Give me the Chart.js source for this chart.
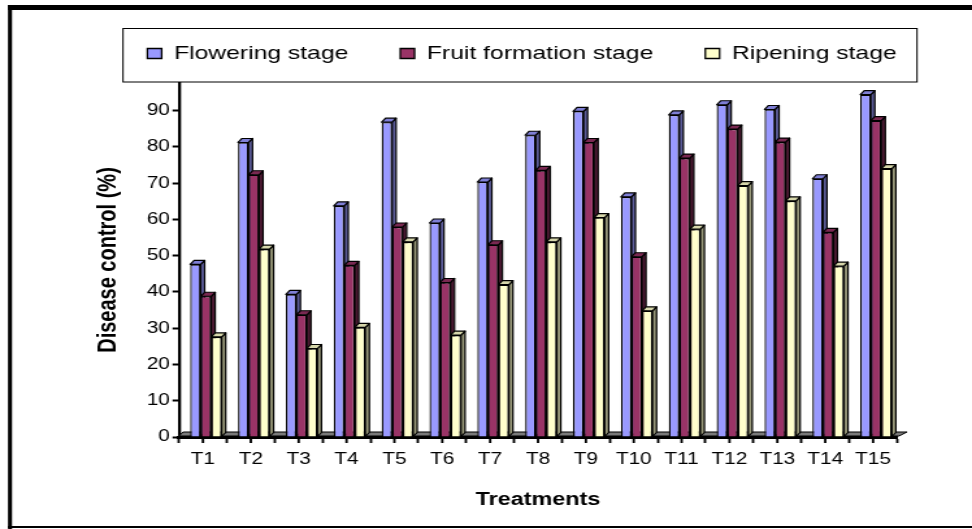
<!DOCTYPE html>
<html>
<head>
<meta charset="utf-8">
<script src="https://cdn.jsdelivr.net/npm/chart.js@4.4.1/dist/chart.umd.min.js"></script>
<style>
html,body{margin:0;padding:0;background:#fff;overflow:hidden;}
#wrap{width:748px;height:529px;transform:scaleX(1.2994652);transform-origin:0 0;}
</style>
</head>
<body>
<div id="wrap"><canvas id="c" width="748" height="529" style="width:748px;height:529px;display:block"></canvas></div>
<script>
// ---- data ----
const categories = ['T1','T2','T3','T4','T5','T6','T7','T8','T9','T10','T11','T12','T13','T14','T15'];
const seriesNames = ['Flowering stage','Fruit formation stage','Ripening stage'];
const flowering      = [47.6, 81.2, 39.3, 63.7, 86.8, 59.0, 70.3, 83.2, 89.8, 66.2, 88.8, 91.6, 90.3, 71.2, 94.4];
const fruitFormation = [38.8, 72.3, 33.7, 47.3, 57.9, 42.6, 53.0, 73.5, 81.2, 49.7, 76.9, 84.9, 81.3, 56.4, 87.2];
const ripening       = [27.6, 51.8, 24.4, 30.2, 53.8, 28.1, 42.0, 53.8, 60.5, 34.8, 57.3, 69.3, 65.1, 47.1, 74.0];
const yTickStep = 10;
const yAxisTitle = 'Disease control (%)';
const xAxisTitle = 'Treatments';

// ---- styling ----
const SX = 972 / 748;               // the reference picture is stretched horizontally
const FONT = "'Liberation Sans', Arial, Helvetica, sans-serif";
const frontColors = ['#9999FF', '#993366', '#FFFFCC'];
const sideColors  = ['#5c5c99', '#4d1a33', '#99997a'];
const topColors   = ['#7f7fd6', '#7a2952', '#d6d6aa'];
const DX = 4 / SX, DY = 4, SHIFT = 3 / SX;

const threeD = {
  id: 'threeD',
  beforeDraw(chart) {
    const {ctx, width, height} = chart;
    ctx.save();
    ctx.fillStyle = '#fff';
    ctx.fillRect(0, 0, width, height);
    ctx.fillStyle = '#000';
    ctx.fillRect(8 / SX, 5, width, 5);
    ctx.fillRect(8 / SX, 5, 4 / SX, height);
    ctx.fillRect(8 / SX, 526, width, 2);
    ctx.strokeStyle = '#000';
    ctx.lineWidth = 1;
    ctx.strokeRect(123 / SX, 28.5, (917 - 123) / SX, 53.5);
    ctx.restore();
  },
  afterLayout(chart) {
    const lg = chart.legend;
    if (!lg) return;
    const dx = 522 / SX - (lg.left + lg.right) / 2;
    lg.left += dx; lg.right += dx;
  },
  beforeDatasetsDraw(chart) {
    const {ctx} = chart;
    const xs = chart.scales.x, ys = chart.scales.y;
    const y0 = ys.getPixelForValue(0);
    ctx.save();
    // floor
    ctx.fillStyle = '#7a7a7a';
    ctx.strokeStyle = '#000';
    ctx.lineWidth = 1;
    ctx.beginPath();
    ctx.moveTo(xs.left, y0 - 1);
    ctx.lineTo(xs.right + 2 / SX, y0 - 1);
    ctx.lineTo(xs.right + 10 / SX, y0 - 1 - DY);
    ctx.lineTo(xs.left + DX, y0 - 1 - DY);
    ctx.closePath();
    ctx.fill();
    ctx.stroke();
    ctx.translate(SHIFT, 0);
    ctx.lineWidth = 1.2;
    ctx.lineJoin = 'round';
    const n = chart.data.labels.length;
    for (let i = 0; i < n; i++) {
      chart.data.datasets.forEach((ds, d) => {
        const el = chart.getDatasetMeta(d).data[i];
        const p = el.getProps(['x', 'y', 'base', 'width'], true);
        const l = p.x - p.width / 2, r = p.x + p.width / 2;
        ctx.fillStyle = sideColors[d];
        ctx.beginPath();
        ctx.moveTo(r, p.y); ctx.lineTo(r + DX, p.y - DY);
        ctx.lineTo(r + DX, p.base - DY); ctx.lineTo(r, p.base);
        ctx.closePath(); ctx.fill(); ctx.stroke();
        ctx.fillStyle = topColors[d];
        ctx.beginPath();
        ctx.moveTo(l, p.y); ctx.lineTo(l + DX, p.y - DY);
        ctx.lineTo(r + DX, p.y - DY); ctx.lineTo(r, p.y);
        ctx.closePath(); ctx.fill(); ctx.stroke();
      });
    }
  },
  afterDatasetsDraw(chart) {
    const {ctx} = chart;
    ctx.restore();
    const xs = chart.scales.x, ys = chart.scales.y;
    const y0 = ys.getPixelForValue(0);
    ctx.save();
    ctx.strokeStyle = '#000';
    ctx.lineWidth = 2.4 / SX;
    for (let i = 0; i < chart.data.labels.length; i++) {
      const px = xs.getPixelForTick(i);
      ctx.beginPath();
      ctx.moveTo(px, y0);
      ctx.lineTo(px, y0 + 6);
      ctx.stroke();
    }
    ctx.restore();
  }
};

const seriesValues = [flowering, fruitFormation, ripening];

new Chart(document.getElementById('c'), {
  type: 'bar',
  data: {
    labels: categories,
    datasets: seriesNames.map((name, d) => ({
      label: name,
      data: seriesValues[d],
      backgroundColor: frontColors[d],
      borderColor: '#000',
      borderWidth: 1.3,
      categoryPercentage: 0.66,
      barPercentage: 1.0
    }))
  },
  options: {
    responsive: false,
    devicePixelRatio: 1,
    animation: false,
    events: [],
    layout: { padding: { top: 4, left: 0, right: 748 - 897 / SX, bottom: 0 } },
    plugins: {
      tooltip: { enabled: false },
      legend: {
        display: true,
        position: 'top',
        fullSize: true,
        labels: {
          font: { family: FONT, size: 19 },
          color: '#000',
          boxWidth: 11,
          boxHeight: 10,
          padding: 40
        }
      },
      subtitle: {
        display: true,
        text: '',
        position: 'top',
        weight: 500,
        font: { size: 10, lineHeight: 1 },
        padding: 0
      }
    },
    scales: {
      x: {
        type: 'category',
        offset: true,
        grid: { offset: true, drawOnChartArea: false, drawTicks: true, tickLength: 6, tickWidth: 2.4 / SX, tickColor: '#000' },
        border: { display: true, color: '#000', width: 3 },
        ticks: { font: { family: FONT, size: 16 }, color: '#000', padding: 7, maxRotation: 0, autoSkip: false },
        title: { display: true, text: xAxisTitle, color: '#000', font: { family: FONT, size: 18, weight: 'bold' }, padding: { top: 0, bottom: 18 } },
        afterFit(s) { s.height = 92; }
      },
      y: {
        min: 0,
        max: 97.6,
        grid: { drawOnChartArea: false, drawTicks: true, tickLength: 5, tickWidth: 2, tickColor: '#000' },
        border: { display: true, color: '#000', width: 3 / SX },
        ticks: { stepSize: yTickStep, includeBounds: false, font: { family: FONT, size: 16 }, color: '#000', padding: 2 },
        title: { display: true, text: yAxisTitle, color: '#000', font: { family: FONT, size: 20, weight: 'bold' }, padding: { top: 71, bottom: 0 } },
        afterFit(s) { s.width = 179 / SX; }
      }
    }
  },
  plugins: [threeD]
});
</script>
</body>
</html>
